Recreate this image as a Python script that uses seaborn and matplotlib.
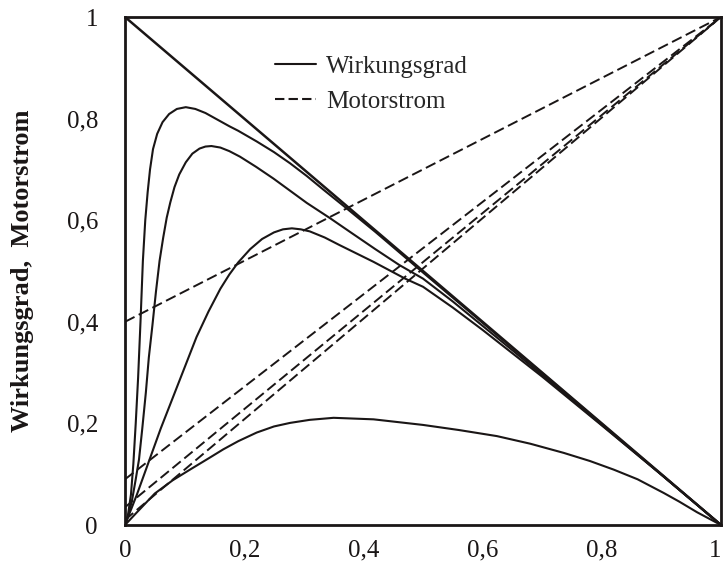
import matplotlib
matplotlib.use("Agg")
import matplotlib.pyplot as plt
from matplotlib.lines import Line2D
import seaborn as sns
import pandas as pd

# ---------------- data ----------------
tick_values = [0, 0.2, 0.4, 0.6, 0.8, 1.0]
tick_labels = ["0", "0,2", "0,4", "0,6", "0,8", "1"]

diag_x = [0.0, 1.0]
diag_y = [1.0, 0.0]

eff_a_x = [0, 0.005, 0.010, 0.014, 0.018, 0.022, 0.026, 0.030, 0.034, 0.038, 0.042,
           0.047, 0.054, 0.063, 0.074, 0.087, 0.102, 0.118, 0.135, 0.155, 0.175, 0.19,
           0.221, 0.25, 0.277, 0.305, 0.333, 0.37, 0.42, 0.5, 0.6, 0.7, 0.8, 0.9, 1.0]
eff_a_y = [0, 0.02, 0.06, 0.12, 0.20, 0.29, 0.40, 0.52, 0.60, 0.655, 0.70,
           0.74, 0.77, 0.793, 0.809, 0.819, 0.8225, 0.819, 0.811, 0.798, 0.785, 0.776,
           0.755, 0.734, 0.712, 0.687, 0.66, 0.625, 0.577, 0.497, 0.398, 0.299, 0.199,
           0.0995, 0]

eff_b_x = [0, 0.006, 0.012, 0.018, 0.0235, 0.029, 0.035, 0.040, 0.046, 0.052, 0.058,
           0.064, 0.070, 0.076, 0.083, 0.091, 0.102, 0.113, 0.125, 0.135, 0.145, 0.16,
           0.175, 0.193, 0.22, 0.249, 0.277, 0.305, 0.344, 0.38, 0.42, 0.46, 0.5, 0.55,
           0.6, 0.65, 0.7, 0.8, 0.9, 1.0]
eff_b_y = [0, 0.02, 0.05, 0.09, 0.129, 0.19, 0.261, 0.33, 0.393, 0.46, 0.52,
           0.565, 0.605, 0.635, 0.665, 0.69, 0.714, 0.731, 0.741, 0.745, 0.746, 0.743,
           0.736, 0.725, 0.705, 0.682, 0.658, 0.634, 0.604, 0.575, 0.543, 0.512, 0.485,
           0.44, 0.392, 0.344, 0.295, 0.197, 0.099, 0]

eff_c_x = [0, 0.02, 0.04, 0.06, 0.08, 0.10, 0.12, 0.14, 0.16, 0.175, 0.19, 0.21, 0.23,
           0.25, 0.265, 0.28, 0.295, 0.31, 0.335, 0.36, 0.417, 0.47, 0.5, 0.55, 0.6,
           0.65, 0.7, 0.8, 0.9, 1.0]
eff_c_y = [0, 0.06, 0.125, 0.19, 0.25, 0.31, 0.37, 0.42, 0.465, 0.493, 0.517, 0.543,
           0.563, 0.576, 0.582, 0.584, 0.582, 0.578, 0.566, 0.551, 0.518, 0.485, 0.469,
           0.428, 0.384, 0.338, 0.292, 0.196, 0.099, 0]

eff_d_x = [0, 0.02, 0.05, 0.08, 0.109, 0.14, 0.165, 0.19, 0.221, 0.25, 0.277, 0.31,
           0.35, 0.417, 0.5, 0.56, 0.624, 0.68, 0.736, 0.78, 0.82, 0.86, 0.904, 0.93,
           0.96, 1.0]
eff_d_y = [0, 0.025, 0.062, 0.088, 0.109, 0.131, 0.149, 0.165, 0.182, 0.194, 0.201,
           0.207, 0.211, 0.208, 0.197, 0.187, 0.175, 0.16, 0.142, 0.126, 0.109, 0.09,
           0.063, 0.046, 0.025, 0]

# Motorstrom lines: start value at x=0, all end at (1, 1)
current_start = [0.40, 0.09, 0.035, 0.01]
current_end = [1.0, 1.0, 1.0, 1.0]
current_x = [0.0, 1.0]

legend_labels = ["Wirkungsgrad", "Motorstrom"]
ylabel_text = "Wirkungsgrad,  Motorstrom"

# ---------------- styling ----------------
sns.set_theme(style="white")
plt.rcParams["font.family"] = ["Liberation Serif", "DejaVu Serif"]
plt.rcParams["axes.unicode_minus"] = False
plt.rcParams["lines.solid_joinstyle"] = "round"
plt.rcParams["lines.dash_joinstyle"] = "round"

ink = "#1a1616"
fig = plt.figure(figsize=(7.25, 5.72), dpi=100)
ax = fig.add_axes([125 / 725, 1 - 525 / 572, 596 / 725, 508 / 572])

lw = 1.5
dash = (5.5, 2.4)

# efficiency curves
for xs, ys in [(eff_a_x, eff_a_y), (eff_b_x, eff_b_y), (eff_c_x, eff_c_y), (eff_d_x, eff_d_y)]:
    sns.lineplot(x=xs, y=ys, ax=ax, color=ink, linewidth=lw, sort=False,
                 estimator=None, legend=False)

# diagonal
sns.lineplot(x=diag_x, y=diag_y, ax=ax, color=ink, linewidth=1.8, sort=False,
             estimator=None, legend=False)

# motor current lines
cur_df = pd.DataFrame({
    "x": current_x * len(current_start),
    "y": [v for s, e in zip(current_start, current_end) for v in (s, e)],
    "id": [i for i in range(len(current_start)) for _ in (0, 1)],
})
for i, g in cur_df.groupby("id"):
    l = sns.lineplot(data=g, x="x", y="y", ax=ax, color=ink, linewidth=1.4,
                     sort=False, estimator=None, legend=False)
    l.lines[-1].set_dashes(dash)

ax.set_xlim(0, 1)
ax.set_ylim(0, 1)
ax.set_xticks(tick_values)
ax.set_xticklabels(tick_labels)
ax.set_yticks(tick_values)
ax.set_yticklabels(tick_labels)
ax.set_xlabel("")
ax.set_ylabel(ylabel_text, fontsize=19, fontweight="bold", color=ink)
ax.yaxis.set_label_coords(-0.152, 0.5)

for sp in ax.spines.values():
    sp.set_visible(True)
    sp.set_linewidth(2.0)
    sp.set_color(ink)

ax.tick_params(axis="both", direction="inout", length=11, width=1.5, colors=ink,
               labelsize=18, labelcolor=ink)
ax.tick_params(axis="x", pad=5)
ax.tick_params(axis="y", pad=14)
for t in [ax.xaxis.get_major_ticks()[0], ax.xaxis.get_major_ticks()[-1],
          ax.yaxis.get_major_ticks()[0], ax.yaxis.get_major_ticks()[-1]]:
    t.tick1line.set_visible(False)
    t.tick2line.set_visible(False)
# keep the last x label inside the figure
ax.get_xticklabels()[-1].set_horizontalalignment("right")

handles = [Line2D([0], [0], color=ink, linewidth=lw),
           Line2D([0], [0], color=ink, linewidth=lw, dashes=(4.5, 2.0))]
ax.legend(handles, legend_labels, loc="upper left", bbox_to_anchor=(0.252, 0.925),
          frameon=False, fontsize=18, handlelength=1.65, handletextpad=0.4,
          labelspacing=0.5, borderpad=0, borderaxespad=0)

fig.savefig("out.png", dpi=100)
